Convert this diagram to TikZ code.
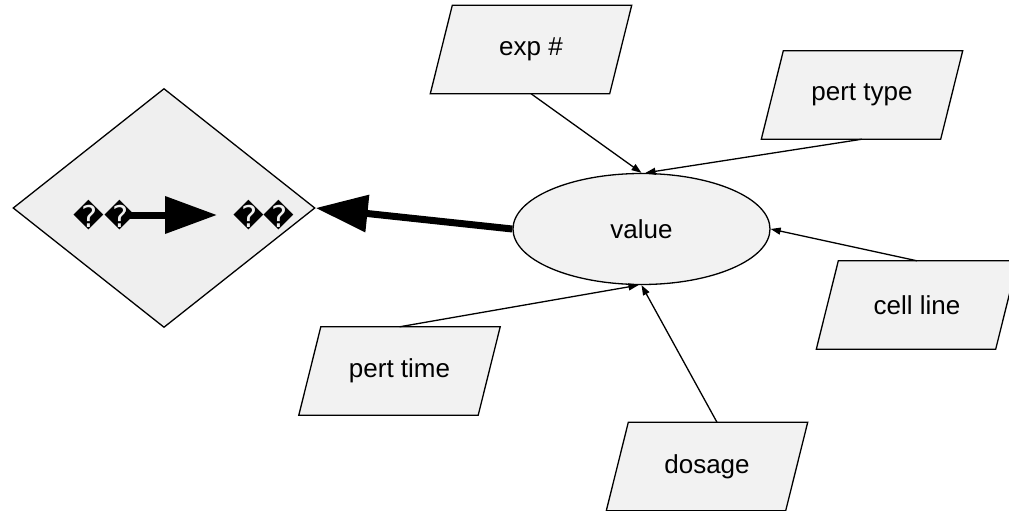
\documentclass[tikz,border=0pt]{standalone}
\usepackage{fontspec}
\setmainfont{Liberation Sans}
\newfontfamily\symfont{DejaVu Sans}
\usetikzlibrary{shapes.geometric,arrows.meta,backgrounds}
\definecolor{boxfill}{HTML}{F2F2F2}
\definecolor{diafill}{HTML}{EFEFEF}
\begin{document}
\begin{tikzpicture}[x=1pt,y=-1pt,
  every node/.style={font=\fontsize{26}{30}\selectfont},
  para/.style={rectangle, minimum width=179pt, minimum height=88pt, inner sep=0pt},
  parabox/.style={line width=1.3pt, draw, fill=boxfill, line join=miter},
  oval/.style={ellipse, draw, line width=1.3pt, fill=boxfill,
    minimum width=257pt, minimum height=111pt, inner sep=0pt},
  decision/.style={diamond, draw, line width=1.3pt, fill=diafill,
    minimum width=302pt, minimum height=239pt, inner sep=0pt},
  glyphs/.style={font=\symfont\fontsize{30}{34}\selectfont, inner sep=0pt},
  link/.style={line width=1.3pt, -{Triangle[length=10pt,width=7pt]}},
  heavy/.style={line width=7pt, -{Triangle[length=52pt,width=36pt]}}
]
\useasboundingbox (0,0) rectangle (1009,511);

% decision diamond with its inner label
\node[decision] (dia) at (164,208) {};
\node[glyphs] (ql) at (104.5,215) {\char"FFFD\char"FFFD};
\node[glyphs] (qr) at (264,215) {\char"FFFD\char"FFFD};
\draw[heavy] ([xshift=20pt]ql.center) -- ([xshift=-47pt]qr.center);

% central value
\node[oval] (val) at (641.5,229) {value};

% input parameters (text nodes; slanted frames drawn behind them)
\node[para] (exp)  at (531,49.5)  {exp \#};
\node[para] (ptyp) at (862,95)    {pert type};
\node[para] (cell) at (917,305)   {cell line};
\node[para] (ptim) at (399.5,371) {pert time};
\node[para] (dos)  at (707,466.5) {dosage};

\begin{pgfonlayer}{background}
  \foreach \n in {exp,ptyp,cell,ptim,dos}
    \draw[parabox] ([xshift=11pt]\n.north west) -- ([xshift=11pt]\n.north east)
      -- ([xshift=-11pt]\n.south east) -- ([xshift=-11pt]\n.south west) -- cycle;
\end{pgfonlayer}

% connectors
\draw[link] (exp.south) -- (val.north);
\draw[link] (ptyp.south) -- ([xshift=4pt]val.north);
\draw[link] (cell.north) -- (val.east);
\draw[link] (ptim.north) -- ([xshift=-3pt]val.south);
\draw[link] ([xshift=10pt]dos.north) -- (val.south);
\draw[heavy] (val.west) -- (dia.east);
\end{tikzpicture}
\end{document}
